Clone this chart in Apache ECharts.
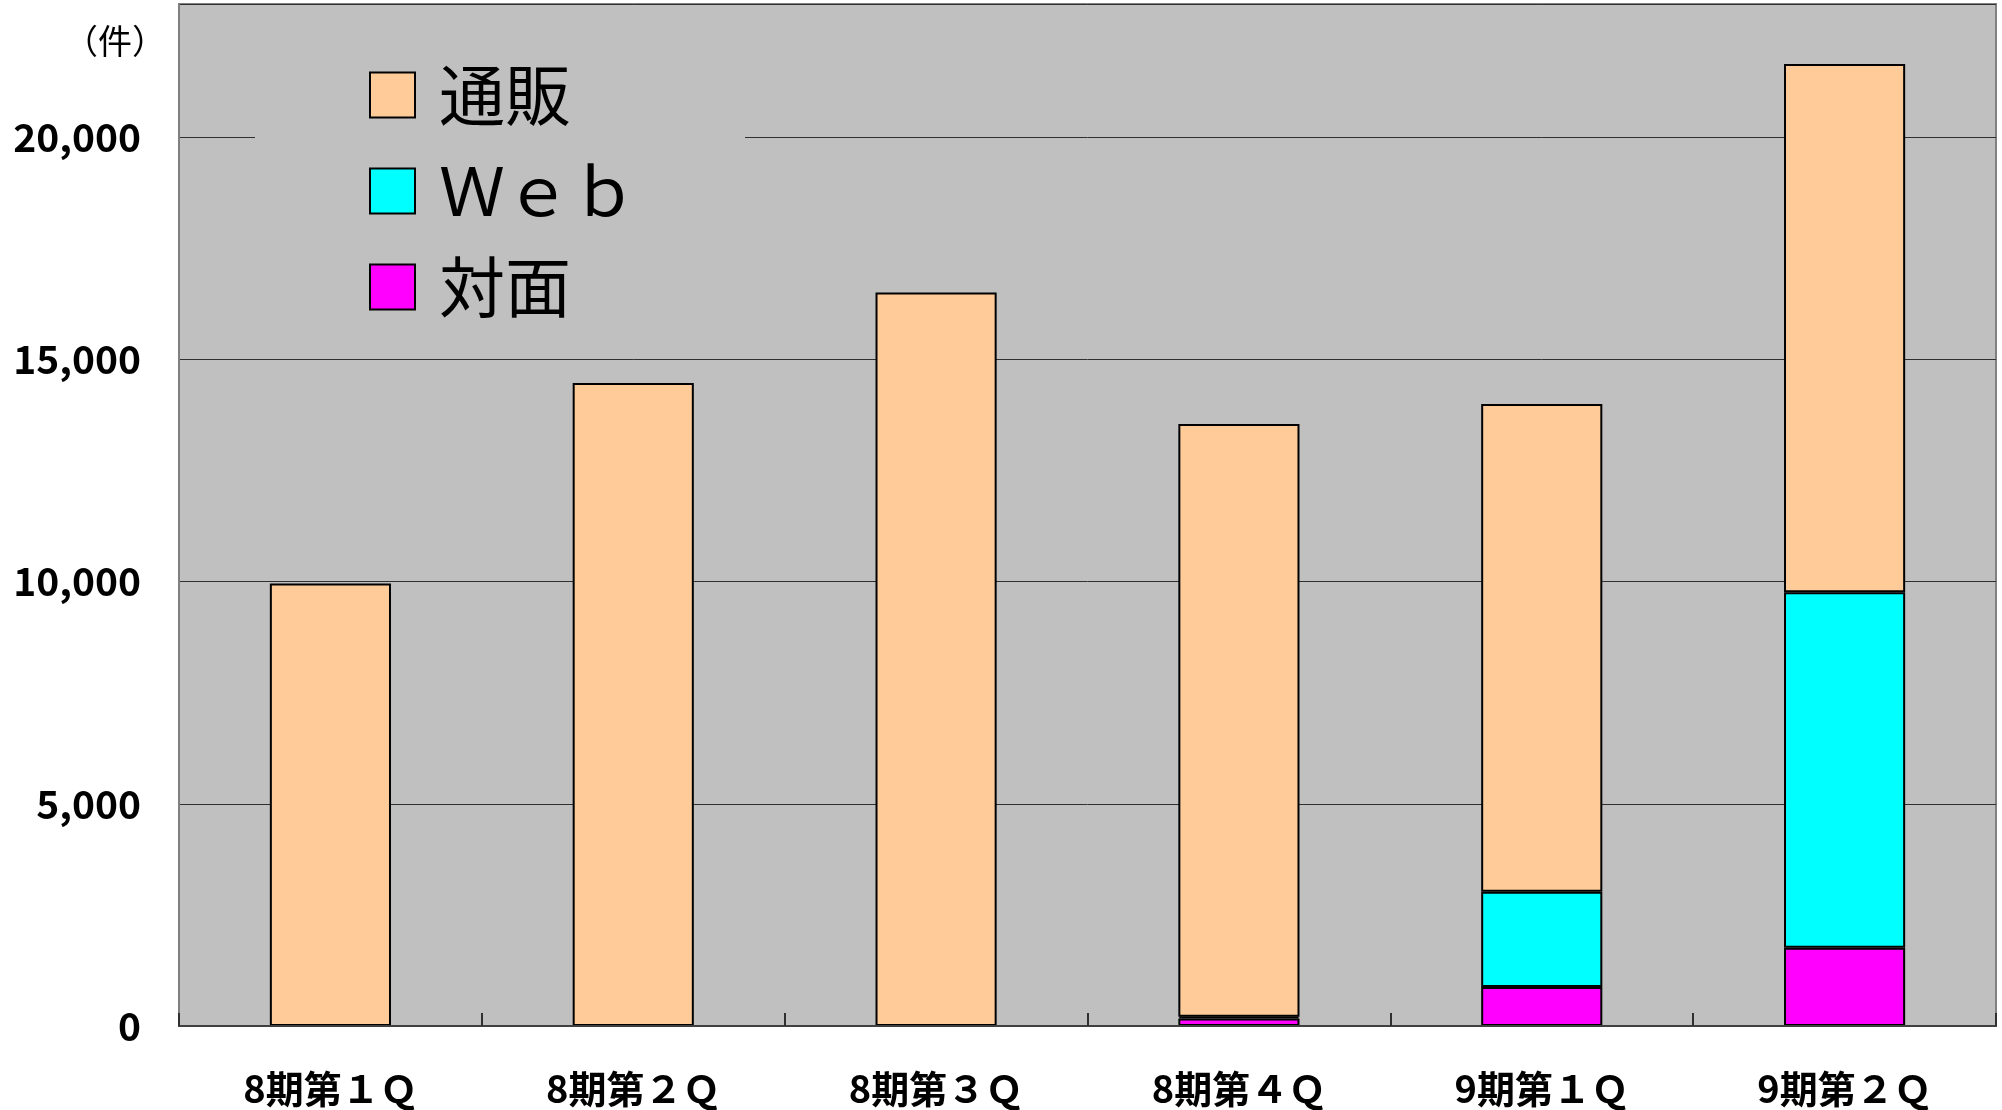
<!DOCTYPE html>
<html>
<head>
<meta charset="utf-8">
<title>chart</title>
<script src="https://cdn.jsdelivr.net/npm/echarts@6/dist/echarts.min.js"></script>
<style>
html, body { margin: 0; padding: 0; background: #ffffff; }
.bar_graph { width: 2002px; height: 1110px; }
</style>
</head>
<body>
<div class="bar_graph"></div>
<script>
var categories = ['8期第１Ｑ', '8期第２Ｑ', '8期第３Ｑ', '8期第４Ｑ', '9期第１Ｑ', '9期第２Ｑ'];
var taimen = [0, 0, 0, 170, 880, 1760];
var web = [0, 0, 0, 40, 2140, 8000];
var tsuhan = [9960, 14470, 16510, 13340, 10980, 11890];
var legendNames = ['通販', 'Ｗｅｂ', '対面'];

function operateEchart(){
    var oDomBarChart = document.getElementsByClassName('bar_graph')[0];
    var barChart = echarts.init(oDomBarChart);
    var font = 'Noto Sans CJK JP';
    var barBorder = {borderColor: '#000000', borderWidth: 2};
    var barOption = {
        animation: false,
        textStyle: {fontFamily: font},
        graphic: [
            {
                type: 'text',
                left: 64,
                top: 24,
                style: {text: '（件）', fontSize: 34, fontFamily: font, fill: '#000000'}
            }
        ],
        legend: {
            orient: 'vertical',
            left: 255,
            top: 40,
            padding: [22, 108, 22, 114],
            backgroundColor: '#c0c0c0',
            itemWidth: 45,
            itemHeight: 45,
            itemGap: 30,
            icon: 'rect',
            data: legendNames,
            itemStyle: {borderColor: '#000000', borderWidth: 2},
            textStyle: {
                fontSize: 66,
                lineHeight: 66,
                fontFamily: font,
                color: '#000000',
                padding: [0, 0, 0, 19]
            }
        },
        grid: {
            left: 179,
            right: 6,
            top: 4,
            bottom: 84,
            show: true,
            backgroundColor: '#c0c0c0',
            borderColor: '#808080',
            borderWidth: 2
        },
        xAxis: {
            type: 'category',
            data: categories,
            z: 5,
            axisLine: {lineStyle: {color: '#404040', width: 2}},
            axisTick: {show: true, interval: 0, inside: true, length: 13, lineStyle: {color: '#303030', width: 2}},
            axisLabel: {
                fontSize: 38,
                fontWeight: 'bold',
                color: '#000000',
                margin: 44
            }
        },
        yAxis: {
            type: 'value',
            min: 0,
            max: 23000,
            interval: 5000,
            axisLine: {show: true, lineStyle: {color: '#808080', width: 2}},
            axisTick: {show: false},
            splitLine: {lineStyle: {color: '#303030', width: 1}},
            axisLabel: {
                fontSize: 39,
                fontWeight: 'bold',
                color: '#000000',
                margin: 38,
                showMaxLabel: false,
                formatter: function(v){
                    return v.toString().replace(/\B(?=(\d{3})+(?!\d))/g, ',');
                }
            }
        },
        series: [
            {
                name: '対面',
                type: 'bar',
                stack: 'total',
                barWidth: '40%',
                data: taimen,
                itemStyle: {color: '#ff00ff', borderColor: barBorder.borderColor, borderWidth: barBorder.borderWidth}
            },
            {
                name: 'Ｗｅｂ',
                type: 'bar',
                stack: 'total',
                barWidth: '40%',
                data: web,
                itemStyle: {color: '#00ffff', borderColor: barBorder.borderColor, borderWidth: barBorder.borderWidth}
            },
            {
                name: '通販',
                type: 'bar',
                stack: 'total',
                barWidth: '40%',
                data: tsuhan,
                itemStyle: {color: '#ffcc99', borderColor: barBorder.borderColor, borderWidth: barBorder.borderWidth}
            }
        ]
    };
    barChart.setOption(barOption);
}

function init(){
    operateEchart();
}

init();
</script>
</body>
</html>
